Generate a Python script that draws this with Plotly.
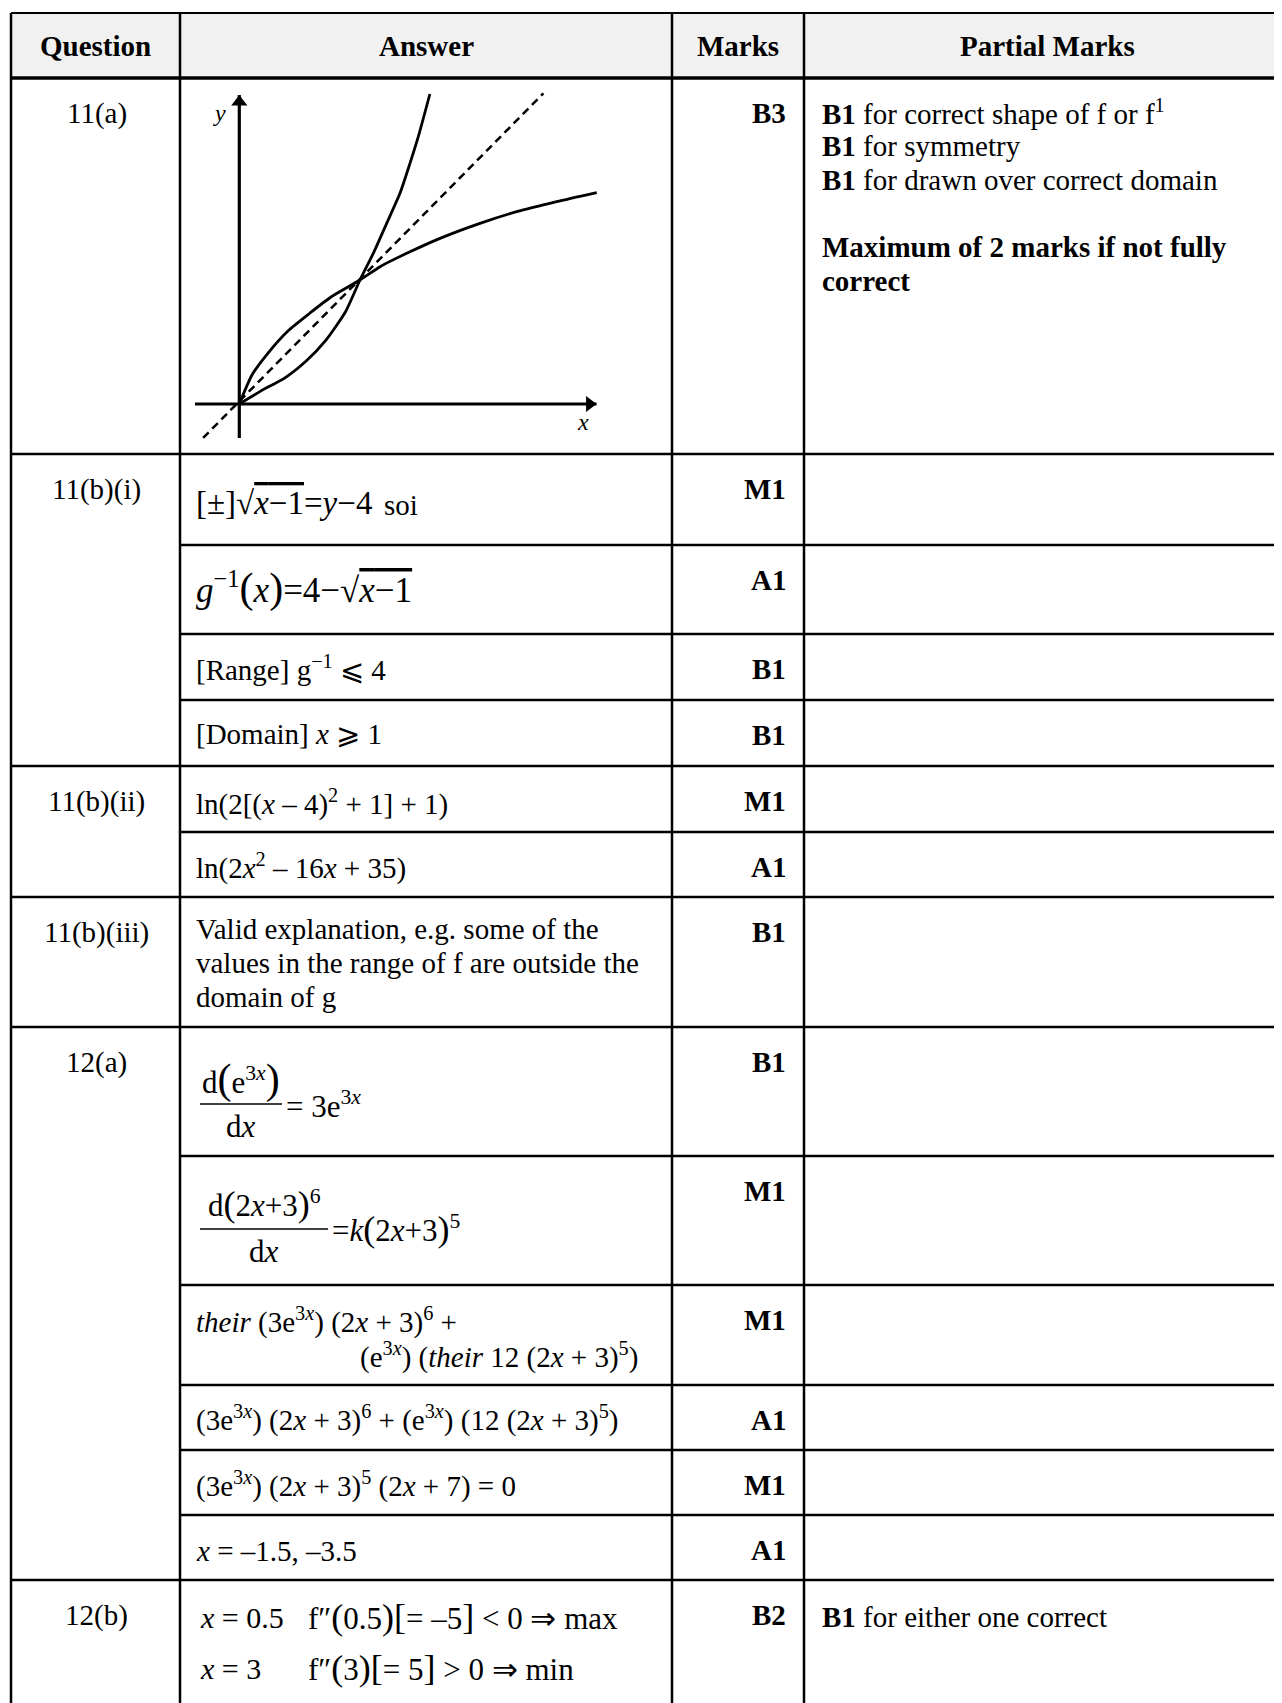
import plotly.graph_objects as go

# ---------------- table content ----------------
HEADERS = ["Question", "Answer", "Marks", "Partial Marks"]
QUESTIONS = ["11(a)", "11(b)(i)", "11(b)(ii)", "11(b)(iii)", "12(a)", "12(b)"]
QUESTION_ROWS = [1, 4, 2, 1, 6, 1]   # how many sub-rows each question spans
MARKS = ["B3", "M1", "A1", "B1", "B1", "M1", "A1", "B1",
         "B1", "M1", "M1", "A1", "M1", "A1", "B2"]

OVL = '<span style="text-decoration:overline">{}</span>'
BIG = '<span style="font-size:{}px">{}</span>'
ANS_11B_1 = "[±]√" + OVL.format("<i>x</i>−1") + "=<i>y</i>−4"
ANS_11B_1_NOTE = "soi"
ANS_11B_2 = "<i>g</i><sup>−1</sup>" + BIG.format(42, "(") + "<i>x</i>" + BIG.format(42, ")") \
    + "=4−√" + OVL.format("<i>x</i>−1")
ANS_11B_3 = "[Range] g<sup>−1</sup> ⩽ 4"
ANS_11B_4 = "[Domain] <i>x</i> ⩾ 1"
ANS_11BII = ["ln(2[(<i>x</i> – 4)<sup>2</sup> + 1] + 1)",
             "ln(2<i>x</i><sup>2</sup> – 16<i>x</i> + 35)"]
ANS_11BIII = ["Valid explanation, e.g. some of the",
              "values in the range of f are outside the",
              "domain of g"]
FRAC_1 = ["d" + BIG.format(42, "(") + "e<sup>3<i>x</i></sup>" + BIG.format(42, ")"),
          "d<i>x</i>", "= 3e<sup>3<i>x</i></sup>"]
FRAC_2 = ["d" + BIG.format(36, "(") + "2<i>x</i>+3" + BIG.format(36, ")") + "<sup>6</sup>",
          "d<i>x</i>",
          "=<i>k</i>" + BIG.format(36, "(") + "2<i>x</i>+3" + BIG.format(36, ")") + "<sup>5</sup>"]
ANS_12A_3 = ["<i>their</i> (3e<sup>3<i>x</i></sup>) (2<i>x</i> + 3)<sup>6</sup> +",
             "(e<sup>3<i>x</i></sup>) (<i>their</i> 12 (2<i>x</i> + 3)<sup>5</sup>)"]
ANS_12A_4 = "(3e<sup>3<i>x</i></sup>) (2<i>x</i> + 3)<sup>6</sup> + (e<sup>3<i>x</i></sup>) (12 (2<i>x</i> + 3)<sup>5</sup>)"
ANS_12A_5 = "(3e<sup>3<i>x</i></sup>) (2<i>x</i> + 3)<sup>5</sup> (2<i>x</i> + 7) = 0"
ANS_12A_6 = "<i>x</i> = –1.5, –3.5"
ANS_12B_X = ["<i>x</i> = 0.5", "<i>x</i> = 3"]
ANS_12B_F = ["f″" + BIG.format(36, "(") + "0.5" + BIG.format(36, ")") + BIG.format(36, "[") + "= –5"
             + BIG.format(36, "]") + " &lt; 0 ⇒ max",
             "f″" + BIG.format(36, "(") + "3" + BIG.format(36, ")") + BIG.format(36, "[") + "= 5"
             + BIG.format(36, "]") + " &gt; 0 ⇒ min"]

PARTIAL_11A = ["<b>B1</b> for correct shape of f or f<sup>1</sup>",
               "<b>B1</b> for symmetry",
               "<b>B1</b> for drawn over correct domain",
               "",
               "<b>Maximum of 2 marks if not fully</b>",
               "<b>correct</b>"]
PARTIAL_12B = ["<b>B1</b> for either one correct"]

# sketch for 11(a): f, its inverse and y = x
F_X = [0, 0.177, 0.375, 0.556, 0.718, 0.88, 1.0,
       1.11, 1.221, 1.331, 1.414, 1.483, 1.579]
F_Y = [0, 0.104, 0.209, 0.349, 0.516, 0.744, 1.0,
       1.215, 1.457, 1.699, 1.941, 2.156, 2.5]
FINV_X = [0, 0.105, 0.238, 0.403, 0.586, 0.76, 1.0,
          1.166, 1.387, 1.663, 1.994, 2.298, 2.63, 2.961]
FINV_Y = [0, 0.234, 0.411, 0.589, 0.734, 0.863, 1.0,
          1.107, 1.215, 1.336, 1.457, 1.551, 1.632, 1.705]
DIAG_X = [-0.3, 2.52]
DIAG_Y = [-0.274, 2.506]
XAXIS_X = [-0.367, 2.96]
YAXIS_Y = [-0.274, 2.492]

# ---------------- layout (page pixels) ----------------
W, H = 1282, 1703
OFF = 8            # page body margin
FONT = "Liberation Serif"
FS = 29
COL_X = [11, 180, 672, 804, W]
ROW_Y = [78, 454, 545, 634, 700, 766, 832, 897, 1027, 1156, 1285, 1385, 1450, 1515, 1580, H]
TOP_Y = 13
ANS_X = 194
MARK_X = 788
PART_X = 820
LINE_H = 33.8
ORIGIN_PX = (239.3, 404.0)
UNIT_PX = (120.7, 124.0)

fig = go.Figure()
shapes = []
annos = []


def hline(y, x0, x1, w=2.5):
    shapes.append(dict(type="line", xref="x", yref="y", x0=x0, x1=x1, y0=y, y1=y,
                       line=dict(color="black", width=w)))


def vline(x, y0, y1, w=2.5):
    shapes.append(dict(type="line", xref="x", yref="y", x0=x, x1=x, y0=y0, y1=y1,
                       line=dict(color="black", width=w)))


def txt(x, y, s, size=FS, anchor="left"):
    annos.append(dict(x=x, y=y, xref="x", yref="y", text=s, showarrow=False,
                      xanchor=anchor, yanchor="middle",
                      font=dict(family=FONT, size=size, color="black")))


# header band
shapes.append(dict(type="rect", xref="x", yref="y", x0=COL_X[0], x1=W + OFF, y0=TOP_Y, y1=ROW_Y[0],
                   fillcolor="#f1f1f1", line=dict(width=0), layer="below"))

# grid lines
hline(TOP_Y, COL_X[0], W + OFF, 2)
hline(ROW_Y[0], COL_X[0], W + OFF, 3.5)
for c in COL_X[:4]:
    vline(c, TOP_Y, H + OFF)
starts = [0]
for n in QUESTION_ROWS:
    starts.append(starts[-1] + n)
for i, y in enumerate(ROW_Y[1:-1], start=1):
    hline(y, COL_X[0] if i in starts else COL_X[1], W + OFF)

# header
hdr_y = (TOP_Y + ROW_Y[0]) / 2
for i, h in enumerate(HEADERS):
    right = COL_X[i + 1] if i < 3 else 1290
    txt((COL_X[i] + right) / 2, hdr_y, "<b>" + h + "</b>", anchor="center")

# question labels
for q, s in zip(QUESTIONS, starts[:-1]):
    txt((COL_X[0] + COL_X[1]) / 2 + 1, ROW_Y[s] + 35, q, anchor="center")

# marks
for i, m in enumerate(MARKS):
    txt(MARK_X, ROW_Y[i] + 35, "<b>" + m + "</b>", anchor="right")

# partial marks
for k, line in enumerate(PARTIAL_11A):
    if line:
        txt(PART_X, ROW_Y[0] + 34 + k * LINE_H, line)
txt(PART_X, ROW_Y[14] + 37, PARTIAL_12B[0])

# answers
txt(ANS_X, 503, ANS_11B_1, size=33)
txt(ANS_X + 188, 505, ANS_11B_1_NOTE, size=29)
txt(ANS_X, 588, ANS_11B_2, size=35)
txt(ANS_X, 668, ANS_11B_3)
txt(ANS_X, 734, ANS_11B_4)
txt(ANS_X, 802, ANS_11BII[0])
txt(ANS_X, 866, ANS_11BII[1])
for k, line in enumerate(ANS_11BIII):
    txt(ANS_X, 929 + k * LINE_H, line)

for frac, bar_y, bar_x1 in [(FRAC_1, 1104, 282), (FRAC_2, 1229, 328)]:
    shapes.append(dict(type="line", xref="x", yref="y", x0=200, x1=bar_x1,
                       y0=bar_y, y1=bar_y, line=dict(color="black", width=1.5)))
    cx = (200 + bar_x1) / 2
    txt(cx, bar_y - 25, frac[0], size=31, anchor="center")
    txt(cx, bar_y + 22, frac[1], size=31, anchor="center")
    txt(bar_x1 + 2, bar_y, frac[2], size=31)

txt(ANS_X, 1320, ANS_12A_3[0])
txt(640, 1355, ANS_12A_3[1], anchor="right")
txt(ANS_X, 1418, ANS_12A_4)
txt(ANS_X, 1484, ANS_12A_5)
txt(ANS_X, 1551, ANS_12A_6)
for k in range(2):
    txt(ANS_X + 4, 1617 + k * 51, ANS_12B_X[k], size=30)
    txt(ANS_X + 112, 1617 + k * 51, ANS_12B_F[k], size=31)

# ---------------- sketch in 11(a) ----------------
sk = dict(xaxis="x2", yaxis="y2", mode="lines", showlegend=False, hoverinfo="skip")
fig.add_trace(go.Scatter(x=XAXIS_X, y=[0, 0], line=dict(color="black", width=3.2), **sk))
fig.add_trace(go.Scatter(x=[0, 0], y=YAXIS_Y, line=dict(color="black", width=3.2), **sk))
fig.add_trace(go.Scatter(x=DIAG_X, y=DIAG_Y, line=dict(color="black", width=2.5, dash="8px,5px"), **sk))
fig.add_trace(go.Scatter(x=F_X, y=F_Y, line=dict(color="black", width=2.8, shape="spline", smoothing=0.6), **sk))
fig.add_trace(go.Scatter(x=FINV_X, y=FINV_Y, line=dict(color="black", width=2.8, shape="spline", smoothing=0.6), **sk))
fig.add_trace(go.Scatter(
    x=[XAXIS_X[1] - 7 / UNIT_PX[0], 0], y=[0, YAXIS_Y[1] - 7 / UNIT_PX[1]],
    mode="markers", marker=dict(symbol=["triangle-right", "triangle-up"], size=14, color="black"),
    xaxis="x2", yaxis="y2", showlegend=False, hoverinfo="skip"))
for lab, lx, ly in [("y", -0.16, 2.35), ("x", 2.846, -0.145)]:
    annos.append(dict(x=lx, y=ly, xref="x2", yref="y2", text="<i>" + lab + "</i>", showarrow=False,
                      font=dict(family=FONT, size=24, color="black")))

# dummy trace so the pixel axes exist
fig.add_trace(go.Scatter(x=[], y=[], showlegend=False))

x0r = (COL_X[1] - ORIGIN_PX[0]) / UNIT_PX[0]
x1r = (COL_X[2] - ORIGIN_PX[0]) / UNIT_PX[0]
y0r = (ORIGIN_PX[1] - ROW_Y[1]) / UNIT_PX[1]
y1r = (ORIGIN_PX[1] - ROW_Y[0]) / UNIT_PX[1]

hidden = dict(visible=False, showgrid=False, zeroline=False, fixedrange=True)
fig.update_layout(
    width=W, height=H, margin=dict(l=0, r=0, t=0, b=0),
    paper_bgcolor="white", plot_bgcolor="rgba(0,0,0,0)",
    xaxis=dict(range=[OFF, W + OFF], domain=[0, 1], **hidden),
    yaxis=dict(range=[H + OFF, OFF], domain=[0, 1], **hidden),
    xaxis2=dict(range=[x0r, x1r], domain=[(COL_X[1] - OFF) / W, (COL_X[2] - OFF) / W],
                anchor="y2", **hidden),
    yaxis2=dict(range=[y0r, y1r], domain=[1 - (ROW_Y[1] - OFF) / H, 1 - (ROW_Y[0] - OFF) / H],
                anchor="x2", **hidden),
    shapes=shapes, annotations=annos, showlegend=False,
)

fig.write_html("out.html")
